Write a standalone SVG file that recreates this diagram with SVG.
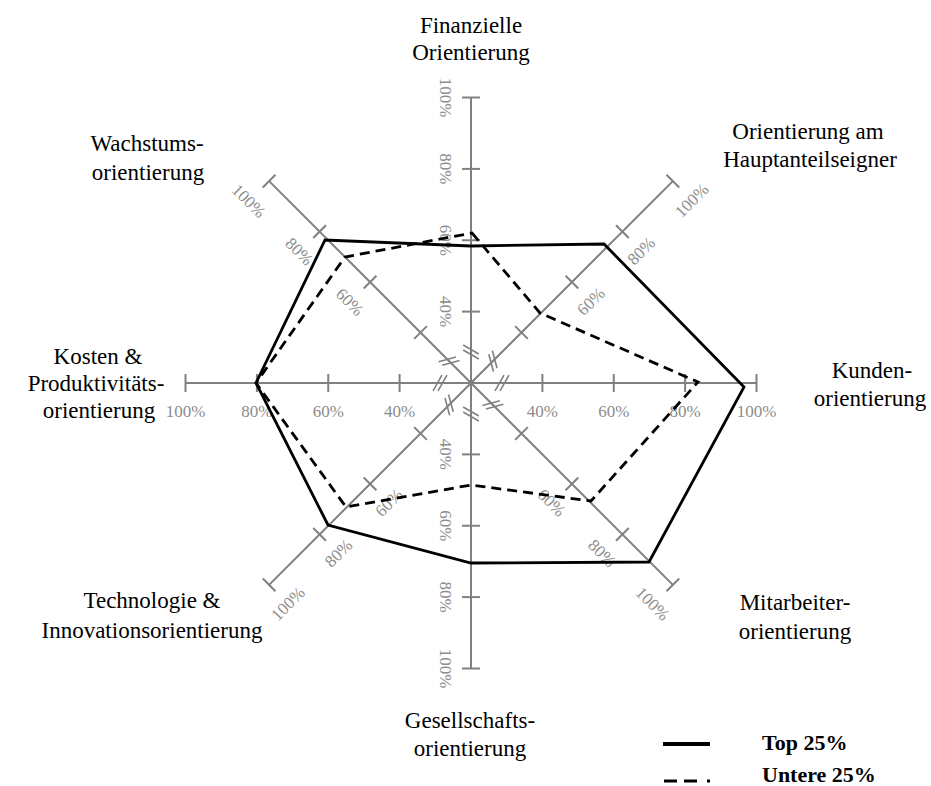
<svg xmlns="http://www.w3.org/2000/svg" xmlns:xlink="http://www.w3.org/1999/xlink" width="931" height="786" viewBox="0 0 931 786">
<style>
.ax{stroke:#808080;stroke-width:2;fill:none}
.brk{stroke:#808080;stroke-width:1.6;fill:none}
.pct{font-family:"Liberation Serif","Times New Roman",serif;font-size:17px;fill:#8c8c8c;text-anchor:middle;dominant-baseline:central}
.lbl{font-family:"Liberation Serif","Times New Roman",serif;font-size:23px;fill:#000;text-anchor:middle}
.leg{font-family:"Liberation Serif","Times New Roman",serif;font-size:22px;font-weight:bold;fill:#000}
.solid{stroke:#000;stroke-width:2.8;fill:none;stroke-linejoin:miter}
.dash{stroke:#000;stroke-width:2.8;fill:none;stroke-dasharray:10,6}
</style>
<defs>
<g id="axis">
<line class="ax" x1="471" y1="383" x2="756.5" y2="383"/>
<line class="ax" x1="542.4" y1="374" x2="542.4" y2="392"/>
<line class="ax" x1="613.75" y1="374" x2="613.75" y2="392"/>
<line class="ax" x1="685.1" y1="374" x2="685.1" y2="392"/>
<line class="ax" x1="756.5" y1="374" x2="756.5" y2="392"/>
</g>
<g id="bk">
<line class="brk" x1="-7" y1="7.8" x2="2" y2="-7.8"/>
<line class="brk" x1="-2" y1="7.8" x2="7" y2="-7.8"/>
</g>
</defs>
<g id="axes">
<use xlink:href="#axis"/>
<use xlink:href="#axis" transform="rotate(-45 471 383)"/>
<use xlink:href="#axis" transform="rotate(-90 471 383)"/>
<use xlink:href="#axis" transform="rotate(-135 471 383)"/>
<use xlink:href="#axis" transform="rotate(180 471 383)"/>
<use xlink:href="#axis" transform="rotate(135 471 383)"/>
<use xlink:href="#axis" transform="rotate(90 471 383)"/>
<use xlink:href="#axis" transform="rotate(45 471 383)"/>
<use xlink:href="#bk" transform="translate(502 383)"/>
<use xlink:href="#bk" transform="translate(492.9 361.1) rotate(-45)"/>
<use xlink:href="#bk" transform="translate(471 352) rotate(-90)"/>
<use xlink:href="#bk" transform="translate(449.1 361.1) rotate(-135)"/>
<use xlink:href="#bk" transform="translate(440 383) rotate(180)"/>
<use xlink:href="#bk" transform="translate(449.1 404.9) rotate(135)"/>
<use xlink:href="#bk" transform="translate(471 414) rotate(90)"/>
<use xlink:href="#bk" transform="translate(492.9 404.9) rotate(45)"/>
</g>
<g id="scale-labels">
<text class="pct" x="542.4" y="411">40%</text>
<text class="pct" x="613.75" y="411">60%</text>
<text class="pct" x="685.1" y="411">80%</text>
<text class="pct" x="756.5" y="411">100%</text>
<text class="pct" x="399.6" y="411">40%</text>
<text class="pct" x="328.25" y="411">60%</text>
<text class="pct" x="256.9" y="411">80%</text>
<text class="pct" x="185.5" y="411">100%</text>
<text class="pct" transform="translate(445 311.6) rotate(90)">40%</text>
<text class="pct" transform="translate(445 240.25) rotate(90)">60%</text>
<text class="pct" transform="translate(445 168.9) rotate(90)">80%</text>
<text class="pct" transform="translate(445 97.5) rotate(90)">100%</text>
<text class="pct" transform="translate(445 454.4) rotate(90)">40%</text>
<text class="pct" transform="translate(445 525.75) rotate(90)">60%</text>
<text class="pct" transform="translate(445 597.1) rotate(90)">80%</text>
<text class="pct" transform="translate(445 668.5) rotate(90)">100%</text>
<text class="pct" transform="translate(591 301.6) rotate(-45)">60%</text>
<text class="pct" transform="translate(641.4 251.1) rotate(-45)">80%</text>
<text class="pct" transform="translate(691.9 200.6) rotate(-45)">100%</text>
<text class="pct" transform="translate(349.6 302.1) rotate(45)">60%</text>
<text class="pct" transform="translate(299.1 251.6) rotate(45)">80%</text>
<text class="pct" transform="translate(248.6 201.1) rotate(45)">100%</text>
<text class="pct" transform="translate(389.1 502.9) rotate(-45)">60%</text>
<text class="pct" transform="translate(338.6 553.4) rotate(-45)">80%</text>
<text class="pct" transform="translate(288.1 603.9) rotate(-45)">100%</text>
<text class="pct" transform="translate(551.4 502.9) rotate(45)">60%</text>
<text class="pct" transform="translate(601.9 553.4) rotate(45)">80%</text>
<text class="pct" transform="translate(652.4 603.9) rotate(45)">100%</text>
</g>
<g id="series">
<polygon id="top25" class="solid" points="471,246 604,244 744,387 649,562 471,563 328,525 256,383 325,240"/>
<polygon id="bottom25" class="dash" points="472,233 540,313 698,382 591,501 471,485 346,507 256,383 345,257"/>
</g>
<g id="n-finanz"><text class="lbl" x="471" y="33">Finanzielle</text><text class="lbl" x="471" y="60">Orientierung</text></g>
<g id="n-haupt"><text class="lbl" x="808" y="139">Orientierung am</text><text class="lbl" x="810" y="167">Hauptanteilseigner</text></g>
<g id="n-wachs"><text class="lbl" x="147" y="151">Wachstums-</text><text class="lbl" x="148" y="180">orientierung</text></g>
<g id="n-kosten"><text class="lbl" x="98" y="364">Kosten &amp;</text><text class="lbl" x="96" y="391">Produktivitäts-</text><text class="lbl" x="99" y="418">orientierung</text></g>
<g id="n-kunden"><text class="lbl" x="872" y="378">Kunden-</text><text class="lbl" x="870" y="406">orientierung</text></g>
<g id="n-mitarb"><text class="lbl" x="795" y="610">Mitarbeiter-</text><text class="lbl" x="795" y="639">orientierung</text></g>
<g id="n-techno"><text class="lbl" x="152" y="608">Technologie &amp;</text><text class="lbl" x="152" y="638">Innovationsorientierung</text></g>
<g id="n-gesell"><text class="lbl" x="470" y="728">Gesellschafts-</text><text class="lbl" x="470" y="756">orientierung</text></g>
<g id="legend">
<line x1="663" y1="744" x2="710" y2="744" stroke="#000" stroke-width="4"/>
<line x1="664" y1="781" x2="711" y2="781" stroke="#000" stroke-width="3" stroke-dasharray="13,7,13,10,3,100"/>
<text class="leg" x="762" y="750">Top 25%</text>
<text class="leg" x="762" y="782">Untere 25%</text>
</g>
</svg>
